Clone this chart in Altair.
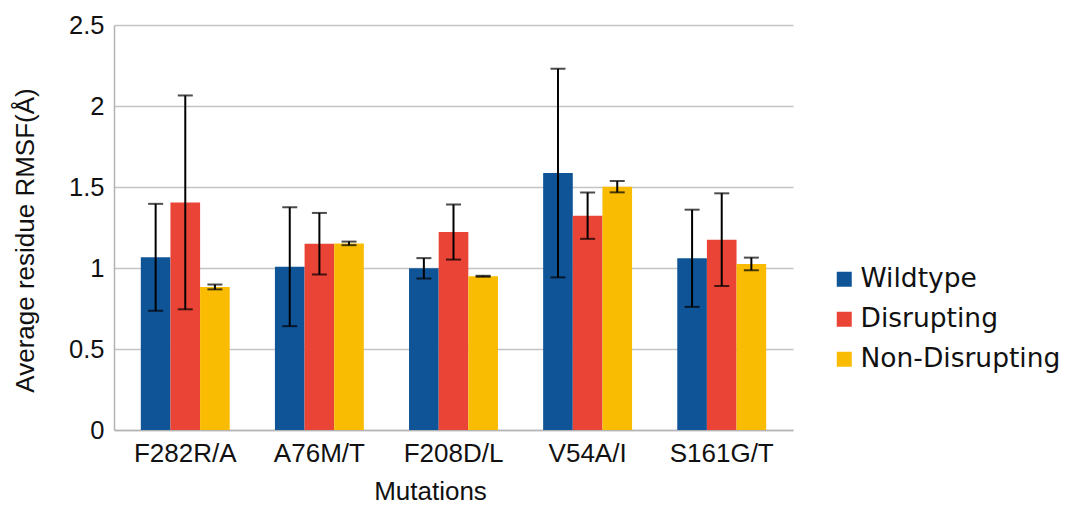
import altair as alt
import pandas as pd

categories = ["F282R/A", "A76M/T", "F208D/L", "V54A/I", "S161G/T"]
series = ["Wildtype", "Disrupting", "Non-Disrupting"]
wildtype = [1.066, 1.008, 0.998, 1.586, 1.060]
wildtype_err = [0.33, 0.367, 0.063, 0.644, 0.30]
disrupting = [1.405, 1.150, 1.222, 1.323, 1.175]
disrupting_err = [0.66, 0.19, 0.17, 0.143, 0.286]
nondisrupting = [0.883, 1.152, 0.949, 1.502, 1.025]
nondisrupting_err = [0.015, 0.011, 0.003, 0.035, 0.039]
colors = ["#0e5497", "#ea4436", "#f9bc02"]

rows = []
for s, vals, errs in zip(series, [wildtype, disrupting, nondisrupting],
                         [wildtype_err, disrupting_err, nondisrupting_err]):
    for c, v, e in zip(categories, vals, errs):
        rows.append({"cat": c, "series": s, "value": v, "lo": v - e, "hi": v + e})
df = pd.DataFrame(rows)

x_enc = alt.X("cat:N", sort=categories, scale=alt.Scale(paddingInner=0.337),
              axis=alt.Axis(title="Mutations", labelAngle=0, ticks=False,
                            labelFont="Liberation Sans", labelFontSize=26,
                            labelColor="#111", labelPadding=10,
                            domainColor="#b3b3b3", domainWidth=1.5,
                            titleFont="Liberation Sans", titleFontSize=26,
                            titleFontWeight="normal", titleColor="#111",
                            titleX=316, titleY=69, titleBaseline="alphabetic",
                            titleAlign="center", grid=False))
xo_enc = alt.XOffset("series:N", sort=series,
                     scale=alt.Scale(paddingInner=0, paddingOuter=0))

base = alt.Chart(df).encode(x=x_enc, xOffset=xo_enc)

bars = base.mark_bar().encode(
    y=alt.Y("value:Q", scale=alt.Scale(domain=[0, 2.5], nice=False),
            axis=alt.Axis(title="Average residue RMSF(Å)",
                          values=[0, 0.5, 1, 1.5, 2, 2.5], format="~g",
                          ticks=False, labelFont="Liberation Sans",
                          labelFontSize=25.5, labelColor="#111", labelPadding=10,
                          domainColor="#b3b3b3", domainWidth=1.5,
                          gridColor="#c4c4c4", gridWidth=1.5,
                          titleFont="Liberation Sans", titleFontSize=26,
                          titleFontWeight="normal", titleColor="#111",
                          titleAngle=-90, titleX=-81, titleY=215,
                          titleBaseline="alphabetic", titleAlign="center")),
    color=alt.Color("series:N", sort=series,
                    scale=alt.Scale(domain=series, range=colors),
                    legend=alt.Legend(title=None, orient="none", legendX=717,
                                      legendY=241, symbolType="square",
                                      symbolSize=225, symbolStrokeWidth=0,
                                      labelFont="DejaVu Sans", labelFontSize=26.5,
                                      labelColor="#111", labelOffset=3,
                                      labelLimit=400, rowPadding=13, padding=0)),
)

rules = base.mark_rule(color="black", strokeWidth=2).encode(
    y=alt.Y("lo:Q"), y2="hi:Q")
caps_hi = base.mark_tick(color="black", thickness=2, size=15).encode(
    y=alt.Y("hi:Q"))
caps_lo = base.mark_tick(color="black", thickness=2, size=15).encode(
    y=alt.Y("lo:Q"))

chart = alt.layer(bars, rules, caps_hi, caps_lo).properties(
    width=679, height=405,
    autosize=alt.AutoSizeParams(type="none"),
    padding={"left": 106, "top": 17, "right": 266, "bottom": 74},
).configure_view(stroke=None)

chart.save("out.html", embed_options={"renderer": "svg", "actions": False})
